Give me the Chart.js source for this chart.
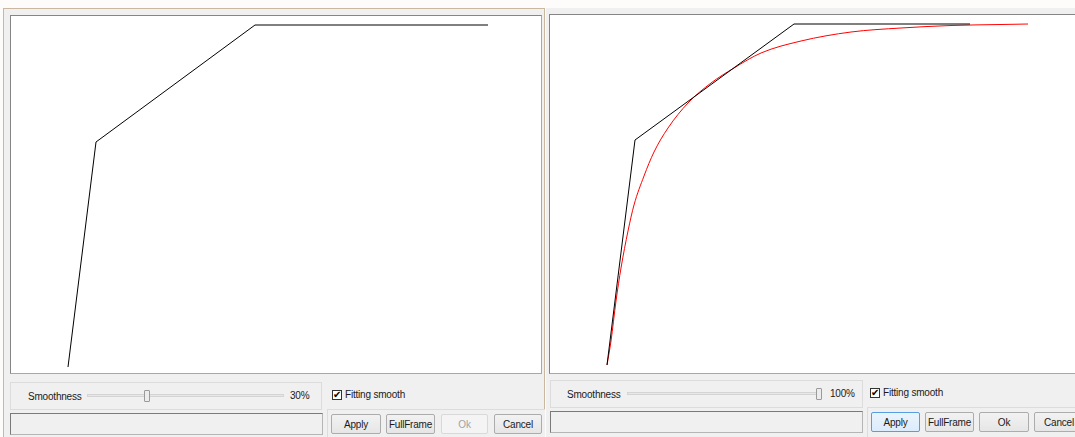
<!DOCTYPE html>
<html>
<head>
<meta charset="utf-8">
<script src="https://cdn.jsdelivr.net/npm/chart.js@4"></script>
<style>
html,body{margin:0;padding:0;width:1075px;height:437px;overflow:hidden;background:#fdfcfb;font-family:"Liberation Sans",Arial,sans-serif;}
.abs{position:absolute;box-sizing:border-box;}
.panel{background:#f0f0f0;}
.plot{background:#fff;border:1px solid #858585;border-right-color:#a8a8a8;border-bottom-color:#a8a8a8;}
.plot canvas{position:absolute;left:0;top:0;}
.grp{border:1px solid #dcdcdc;background:#f0f0f0;}
.txt{font-size:10px;color:#1a1a1a;white-space:nowrap;letter-spacing:-0.2px;}
.track{height:3px;background:#e7e7e7;border:1px solid #d4d4d4;}
.handle{background:#ececec;border:1px solid #9a9a9a;border-radius:1px;}
.field{background:#f0f0f0;border:1px solid #7a7a7a;border-right-color:#b5b5b5;border-bottom-color:#b5b5b5;}
.btn{border:1px solid #acacac;background:linear-gradient(#f2f2f2,#e6e6e6);border-radius:2px;font-size:10px;color:#1a1a1a;display:flex;align-items:center;justify-content:center;letter-spacing:-0.2px;}
.btn.focus{border-color:#569de5;background:linear-gradient(#eaf4fc,#dcecfc);}
.btn.dis{border-color:#d9d9d9;background:#f4f4f4;color:#a3a3a3;}
.chk{width:10px;height:10px;border:1px solid #333;background:#fff;font-size:10px;line-height:8px;text-align:center;font-family:"DejaVu Sans",sans-serif;color:#000;}
</style>
</head>
<body>
<!-- left window -->
<div class="abs panel" style="left:3px;top:8px;width:542px;height:429px;border-left:1px solid #c9b79e;border-top:1px solid #c9b79e;border-right:1px solid #c9b79e;"></div>
<div class="abs plot" style="left:10px;top:15px;width:532px;height:359px;"><canvas id="c1" width="531" height="358"></canvas></div>
<div class="abs grp" style="left:10px;top:382px;width:312px;height:28px;"></div>
<div class="abs txt" style="left:28px;top:391px;">Smoothness</div>
<div class="abs track" style="left:87px;top:394px;width:197px;"></div>
<div class="abs handle" style="left:144px;top:390px;width:6px;height:12px;"></div>
<div class="abs txt" style="left:290px;top:390px;">30%</div>
<div class="abs chk" style="left:332px;top:390px;">✔</div>
<div class="abs txt" style="left:345px;top:389px;">Fitting smooth</div>
<div class="abs field" style="left:10px;top:413px;width:313px;height:22px;"></div>
<div class="abs grp" style="left:327px;top:409px;width:218px;height:30px;border-right:none;"></div>
<div class="abs btn" style="left:331px;top:414px;width:50px;height:20px;">Apply</div>
<div class="abs btn" style="left:386px;top:414px;width:49px;height:20px;">FullFrame</div>
<div class="abs btn dis" style="left:441px;top:414px;width:47px;height:20px;">Ok</div>
<div class="abs btn" style="left:494px;top:414px;width:48px;height:20px;">Cancel</div>

<!-- right window -->
<div class="abs panel" style="left:546px;top:8px;width:529px;height:429px;"></div>
<div class="abs plot" style="left:549px;top:14px;width:532px;height:360px;"><canvas id="c2" width="531" height="359"></canvas></div>
<div class="abs grp" style="left:550px;top:380px;width:313px;height:28px;"></div>
<div class="abs txt" style="left:567px;top:389px;">Smoothness</div>
<div class="abs track" style="left:627px;top:392px;width:192px;"></div>
<div class="abs handle" style="left:816px;top:388px;width:6px;height:12px;"></div>
<div class="abs txt" style="left:830px;top:388px;">100%</div>
<div class="abs chk" style="left:870px;top:388px;">✔</div>
<div class="abs txt" style="left:883px;top:387px;">Fitting smooth</div>
<div class="abs field" style="left:550px;top:411px;width:313px;height:22px;"></div>
<div class="abs grp" style="left:867px;top:407px;width:210px;height:32px;border-right:none;"></div>
<div class="abs btn focus" style="left:871px;top:412px;width:49px;height:20px;">Apply</div>
<div class="abs btn" style="left:925px;top:412px;width:49px;height:20px;">FullFrame</div>
<div class="abs btn" style="left:979px;top:412px;width:50px;height:20px;">Ok</div>
<div class="abs btn" style="left:1034px;top:412px;width:50px;height:20px;">Cancel</div>

<script>
// left panel (smoothness 30%): control curve
const leftX = [57, 85, 244, 477];
const leftY = [7, 232, 349, 349];
// right panel (smoothness 100%): control curve
const rightX = [57, 85, 244, 420];
const rightY = [9, 234, 350, 350];
// right panel: fitted smooth curve (red)
const fitX = [57, 61, 66, 71, 78, 84, 94, 104, 118, 138, 161, 184, 211, 251, 301, 351, 401, 451, 478];
const fitY = [9, 33, 73, 106, 143, 169, 198, 222, 246, 271, 291, 306, 321, 333, 342, 346, 348.5, 349.5, 350];

function pts(xs, ys){ return xs.map((x,i)=>({x:x,y:ys[i]})); }
function opts(xmax, ymax){
  return {
    responsive:false, animation:false, devicePixelRatio:1,
    layout:{padding:0},
    plugins:{legend:{display:false},tooltip:{enabled:false}},
    elements:{point:{radius:0}},
    scales:{
      x:{type:'linear',min:0,max:xmax,display:false},
      y:{type:'linear',min:0,max:ymax,display:false}
    }
  };
}
new Chart(document.getElementById('c1'), {
  type:'scatter',
  data:{datasets:[{data:pts(leftX,leftY),showLine:true,borderColor:'#000',borderWidth:1,tension:0}]},
  options:opts(531,358)
});
new Chart(document.getElementById('c2'), {
  type:'scatter',
  data:{datasets:[
    {data:pts(rightX,rightY),showLine:true,borderColor:'#000',borderWidth:1,tension:0},
    {data:pts(fitX,fitY),showLine:true,borderColor:'#ff0000',borderWidth:1,cubicInterpolationMode:'monotone'}
  ]},
  options:opts(531,359)
});
</script>
</body>
</html>
